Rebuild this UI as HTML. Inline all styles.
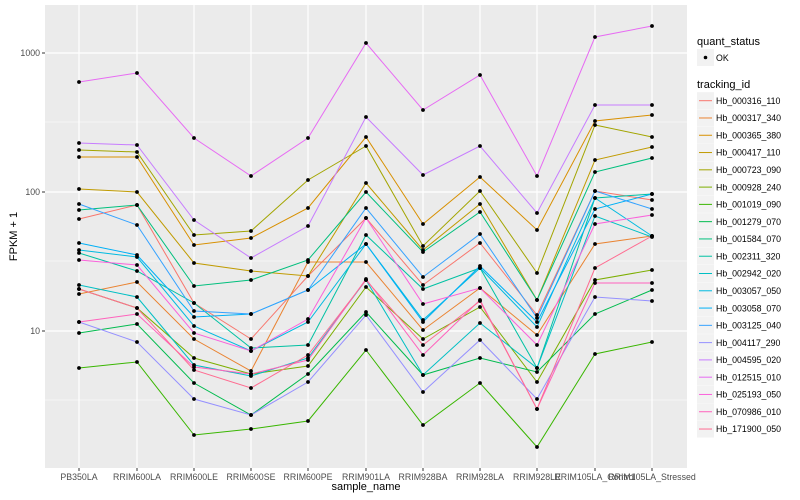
<!DOCTYPE html>
<html><head><meta charset="utf-8"><style>
html,body{margin:0;padding:0;background:#fff;}
svg{display:block;font-family:"Liberation Sans",sans-serif;}
</style></head><body>
<svg width="800" height="500" viewBox="0 0 800 500" xmlns="http://www.w3.org/2000/svg">
<rect width="800" height="500" fill="#fff"/>
<rect x="45" y="5" width="642" height="463" fill="#EBEBEB"/>
<g stroke="#fff" stroke-width="0.6">
<line x1="45" x2="687" y1="122" y2="122"/><line x1="45" x2="687" y1="261" y2="261"/><line x1="45" x2="687" y1="400" y2="400"/>
</g>
<g stroke="#fff" stroke-width="1.2">
<line x1="45" x2="687" y1="53" y2="53"/><line x1="45" x2="687" y1="192" y2="192"/><line x1="45" x2="687" y1="331" y2="331"/>
<line x1="79" x2="79" y1="5" y2="468"/><line x1="137" x2="137" y1="5" y2="468"/><line x1="194" x2="194" y1="5" y2="468"/><line x1="251" x2="251" y1="5" y2="468"/><line x1="308" x2="308" y1="5" y2="468"/><line x1="366" x2="366" y1="5" y2="468"/><line x1="423" x2="423" y1="5" y2="468"/><line x1="480" x2="480" y1="5" y2="468"/><line x1="537" x2="537" y1="5" y2="468"/><line x1="595" x2="595" y1="5" y2="468"/><line x1="652" x2="652" y1="5" y2="468"/>
</g>
<g id="series" fill="none" stroke-width="1"></g>
<g id="pts" fill="#000"></g>
<g stroke="#333" stroke-width="1">
<line x1="42" x2="45" y1="53" y2="53"/><line x1="42" x2="45" y1="192" y2="192"/><line x1="42" x2="45" y1="331" y2="331"/>
</g>
<g font-size="8.8" fill="#4D4D4D" text-anchor="end">
<text x="40" y="56">1000</text><text x="40" y="195">100</text><text x="40" y="334">10</text>
</g>
<g id="xt" stroke="#333"></g>
<g id="xl" font-size="8.8" fill="#4D4D4D" text-anchor="middle"></g>
<text x="366" y="490" font-size="11" text-anchor="middle" fill="#000">sample_name</text>
<text transform="translate(17,236.5) rotate(-90)" font-size="11" text-anchor="middle" fill="#000">FPKM + 1</text>
<text x="697" y="45" font-size="11" fill="#000">quant_status</text>
<rect x="697" y="49" width="17" height="17" fill="#F2F2F2"/>
<circle cx="705.5" cy="57.5" r="1.8" fill="#000"/>
<text x="716" y="61" font-size="8.8" fill="#000">OK</text>
<text x="697" y="88" font-size="11" fill="#000">tracking_id</text>
<g id="leg"></g>
</svg>
<script>
var X=[79,137,194,251,308,366,423,480,537,595,652];
var names=["PB350LA","RRIM600LA","RRIM600LE","RRIM600SE","RRIM600PE","RRIM901LA","RRIM928BA","RRIM928LA","RRIM928LE","RRIM105LA_Control","RRIM105LA_Stressed"];
var S=[
["Hb_000316_110","#F8766D",[219,205,303,339,276,218,285,243,315,191,200]],
["Hb_000317_340","#EA8331",[294,282,339,371,262,262,330,288,335,244,236]],
["Hb_000365_380","#D89000",[157,157,245,238,208,137,224,177,230,121,115]],
["Hb_000417_110","#C09B00",[189,192,263,271,276,183,250,204,300,160,147]],
["Hb_000723_090","#A3A500",[150,152,235,231,180,146,246,191,273,125,137]],
["Hb_000928_240","#7CAE00",[289,308,358,374,366,287,339,307,382,280,270]],
["Hb_001019_090","#39B600",[368,362,435,429,421,350,425,383,447,354,342]],
["Hb_001279_070","#00BB4E",[333,324,383,415,374,312,375,358,372,314,290]],
["Hb_001584_070","#00BF7D",[210,205,286,280,260,192,252,212,300,172,158]],
["Hb_002311_320","#00C1A3",[253,271,303,348,345,235,289,268,368,198,194]],
["Hb_002942_020","#00BFC4",[285,297,365,376,358,280,375,323,368,216,237]],
["Hb_003057_050","#00BAE0",[250,257,326,351,322,244,320,268,327,198,236]],
["Hb_003058_070","#00B0F6",[243,255,317,314,290,244,322,266,322,209,194]],
["Hb_003125_040","#35A2FF",[204,225,311,314,290,208,277,234,318,191,209]],
["Hb_004117_290","#9590FF",[322,342,399,415,382,315,392,340,399,297,301]],
["Hb_004595_020","#C77CFF",[143,145,220,258,226,117,175,146,213,105,105]],
["Hb_012515_010","#E76BF3",[82,73,138,176,138,43,110,75,176,37,26]],
["Hb_025193_050","#FA62DB",[260,265,333,351,319,218,304,288,345,224,215]],
["Hb_070986_010","#FF62BC",[322,314,367,374,360,279,355,300,409,283,283]],
["Hb_171900_050","#FF6C91",[289,308,370,388,355,280,345,301,409,268,236]]];
var ns="http://www.w3.org/2000/svg";
function el(t,a,p){var e=document.createElementNS(ns,t);for(var k in a)e.setAttribute(k,a[k]);p.appendChild(e);return e;}
var g=document.getElementById("series"),pg=document.getElementById("pts"),lg=document.getElementById("leg");
S.forEach(function(s,i){
 el("polyline",{points:s[2].map(function(y,j){return X[j]+","+y}).join(" "),stroke:s[1],"stroke-width":1},g);
 s[2].forEach(function(y,j){el("circle",{cx:X[j],cy:y,r:1.9},pg);});
 var cy=100.7+i*17.28;
 el("rect",{x:697,y:cy-8.5,width:17,height:17,fill:"#F2F2F2"},lg);
 el("line",{x1:699,x2:712,y1:cy,y2:cy,stroke:s[1],"stroke-width":1},lg);
 var t=el("text",{x:716,y:cy+3.2,"font-size":8.8,fill:"#000"},lg);t.textContent=s[0];
});
var xt=document.getElementById("xt"),xl=document.getElementById("xl");
X.forEach(function(x,j){el("line",{x1:x,x2:x,y1:468,y2:471},xt);var t=el("text",{x:x,y:480},xl);t.textContent=names[j];});
</script>
</body></html>
